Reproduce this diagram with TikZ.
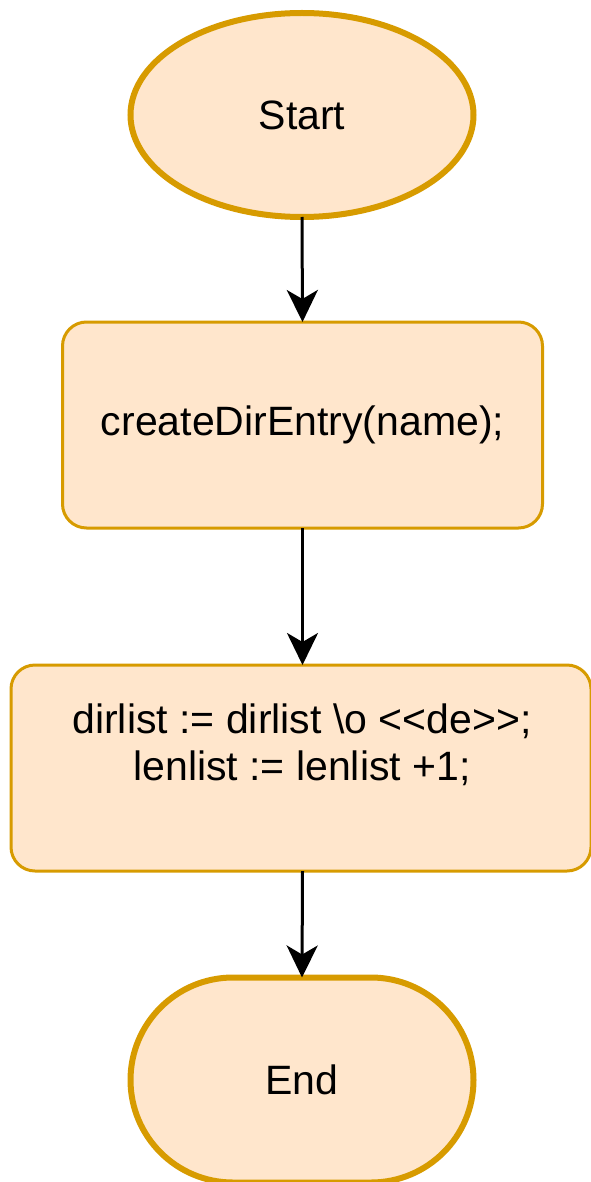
\documentclass[tikz,border=0pt]{standalone}
\usepackage{fontspec}
\setmainfont{Liberation Sans}
\usetikzlibrary{arrows.meta,shapes.geometric,shapes.misc}
\definecolor{boxfill}{HTML}{FFE6CC}
\definecolor{boxline}{HTML}{D79B00}
\tikzset{
  base/.style={fill=boxfill, draw=boxline, inner sep=0pt, outer sep=0pt,
    font=\fontsize{41}{47}\selectfont, align=center},
  startshape/.style={base, ellipse, line width=6pt},
  endshape/.style={base, rounded rectangle, line width=6pt},
  stepbox/.style={base, rectangle, rounded corners=24pt, line width=3pt},
  flow/.style={line width=3pt, -{Stealth[length=32pt,width=31pt,inset=9pt]}}
}
\begin{document}
\begin{tikzpicture}[x=1pt,y=-1pt]
  \useasboundingbox (0,0) rectangle (590,1182);
  \node[startshape, minimum width=343pt, minimum height=204pt] (start) at (302,115) {Start};
  \node[stepbox, minimum width=480pt, minimum height=206pt] (create) at (302.5,425) {createDirEntry(name);};
  \node[stepbox, minimum width=580pt, minimum height=206pt] (append) at (301,768) {};
  \node[font=\fontsize{41}{47}\selectfont, align=center, inner sep=0pt] (appendtext) at (302,745)
    {dirlist := dirlist \textbackslash o <{}<de>{}>;\\lenlist := lenlist +1;};
  \node[endshape, minimum width=343pt, minimum height=205pt] (finish) at (302,1080) {End};
  \draw[flow] (start.south) -- (create.north);
  \draw[flow] (create.south) -- (append.north -| create.south);
  \draw[flow] (append.south -| create.south) -- (finish.north);
\end{tikzpicture}
\end{document}
